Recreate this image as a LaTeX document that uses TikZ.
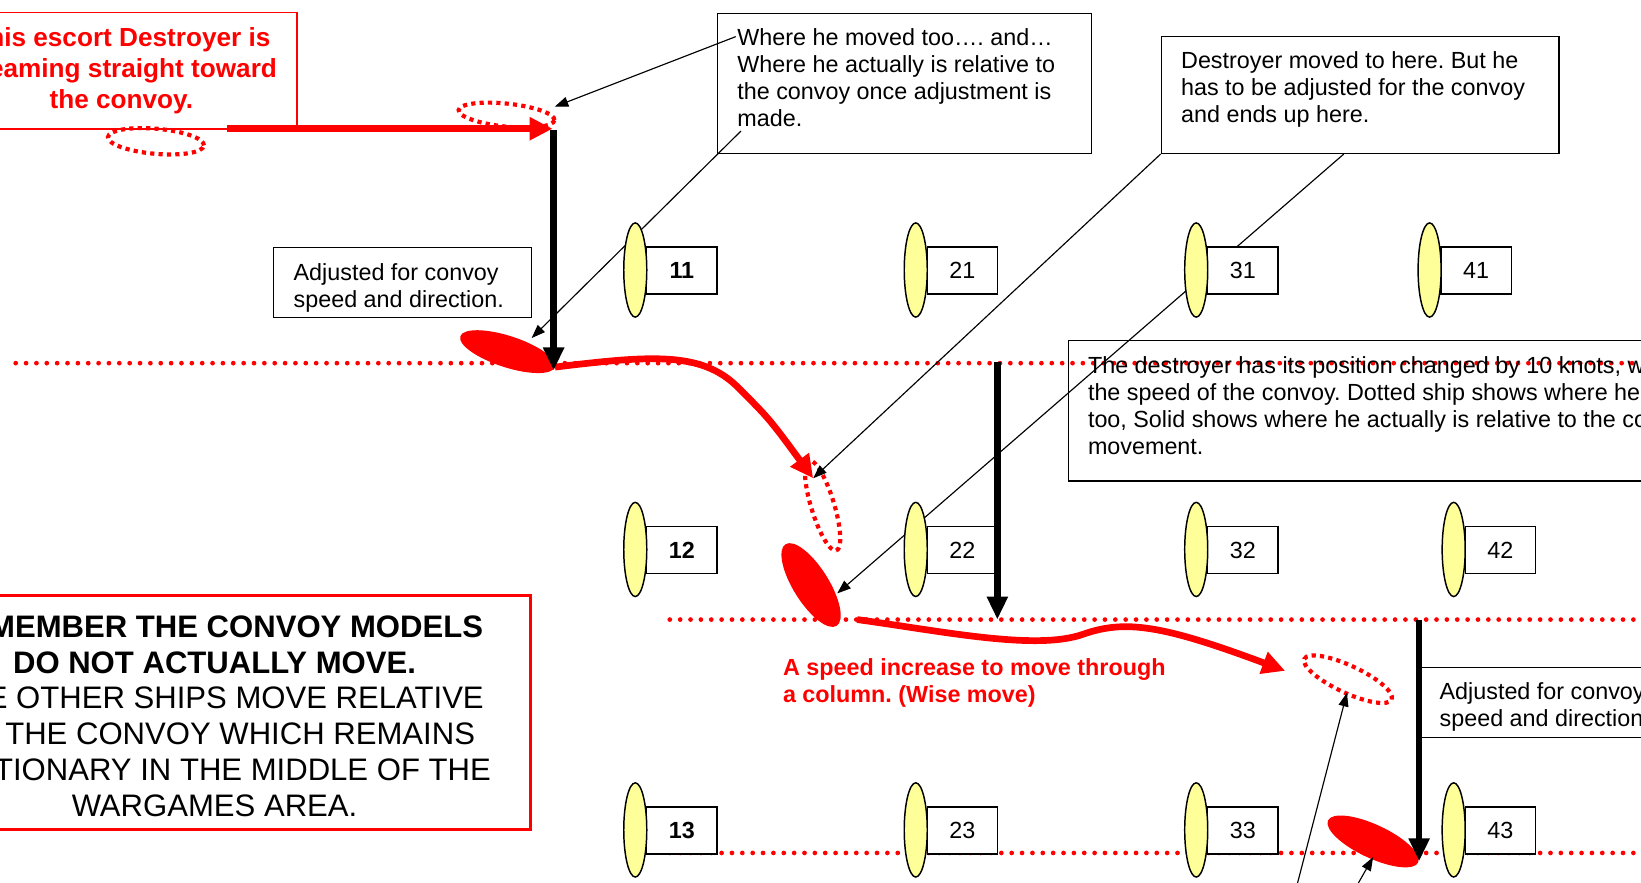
\documentclass[tikz,border=0pt]{standalone}
\usepackage{fontspec}
\setmainfont{Liberation Sans}
\frenchspacing
\usetikzlibrary{calc,shapes.geometric,arrows.meta}
\definecolor{shipyellow}{RGB}{255,255,153}
\newcommand{\notefont}{\fontsize{22.3pt}{25.7pt}\selectfont}
\newcommand{\notetext}[3]{\parbox[t][#1][t]{#2}{#3}}

\begin{document}
\begin{tikzpicture}[x=1pt,y=-1pt,>={Triangle[length=13pt,width=9.5pt]},
	dots/.style={red,line width=4.5pt,dash pattern=on 0pt off 9.9pt,line cap=round},
	note/.style={draw,line width=1.2pt,anchor=north west,inner xsep=19pt,inner ysep=15pt,font=\notefont},
	redbox/.style={draw=red,align=center,inner sep=0pt},
	rednote/.style={anchor=north west,align=left,inner sep=0pt,text=red,font=\notefont\bfseries},
	ship/.style={ellipse,draw,line width=1.4pt,fill=shipyellow,minimum width=22pt,minimum height=90pt,inner sep=0pt},
	shipbox/.style={draw,line width=1.3pt,fill=white,minimum width=67pt,minimum height=45pt,inner sep=0pt,font=\notefont},
	ghost/.style={ellipse,draw=red,line width=4pt,dash pattern=on 4pt off 4pt,inner sep=0pt},
	hull/.style={ellipse,fill=red,inner sep=0pt},
	callout/.style={->,line width=1.1pt},
	redmove/.style={red,line width=6.4pt,-{Triangle[length=22pt,width=21pt]}},
	adjust/.style={line width=6pt,-{Triangle[length=22pt,width=19pt]}}]
	\useasboundingbox (0,0) rectangle (1568,843);
	% convoy column lines
	\draw[dots] (15,347) -- (1568,347);
	\draw[dots] (640,592) -- (1568,592);
	\draw[dots] (640,815) -- (1568,815);
	% text boxes
	\node[redbox,line width=1.5pt,minimum width=336pt,minimum height=111pt,text=red,font=\fontsize{25pt}{29.5pt}\selectfont\bfseries] (escort) at (116,67.5) {This escort Destroyer is\\steaming straight toward\\the convoy.};
	\node[note] (moved) at (685,12) {\notetext{104pt}{319pt}{Where he moved too…. and…\\Where he actually is relative to\\the convoy once adjustment is\\made.}};
	\node[note] (dest) at (1109,34) {\notetext{82pt}{342pt}{Destroyer moved to here. But he\\has to be adjusted for the convoy\\and ends up here.}};
	\node[note] (knots) at (1020,325) {\notetext{104pt}{762pt}{The destroyer has its position changed by 10 knots, which is\\the speed of the convoy. Dotted ship shows where he moved\\too, Solid shows where he actually is relative to the convoy\\movement.}};
	\node[note] (adjusted1) at (261,236) {\notetext{37pt}{208pt}{Adjusted for convoy\\speed and direction.}};
	\node[note,inner xsep=17pt] (adjusted2) at (1358,637) {\notetext{37pt}{266pt}{Adjusted for convoy\\speed and direction.}};
	\node[redbox,line width=3pt,minimum width=604pt,minimum height=224pt,font=\fontsize{29.7pt}{34.2pt}\selectfont] (remember) at (205,681) {\rule{0pt}{27pt}\textbf{REMEMBER THE CONVOY MODELS}\\\textbf{DO NOT ACTUALLY MOVE.}\\THE OTHER SHIPS MOVE RELATIVE\\TO THE CONVOY WHICH REMAINS\\STATIONARY IN THE MIDDLE OF THE\\WARGAMES AREA.};
	\node[rednote] (speedup) at (748,629) {A speed increase to move through\\a column. (Wise move)};
	% destroyer positions
	\node[ghost,minimum width=92pt,minimum height=24pt,rotate=-5] (startpos) at (149,135) {};
	\node[ghost,minimum width=92pt,minimum height=22pt,rotate=-6] (movedpos1) at (484,110) {};
	\node[hull,minimum width=95pt,minimum height=30pt,rotate=-18] (realpos1) at (485,336) {};
	\node[ghost,minimum width=90pt,minimum height=22pt,rotate=-73] (movedpos2) at (786,483) {};
	\node[hull,minimum width=92pt,minimum height=34pt,rotate=-58] (realpos2) at (775,559) {};
	\node[ghost,minimum width=92pt,minimum height=26pt,rotate=-25] (movedpos3) at (1288,649) {};
	\node[hull,minimum width=95pt,minimum height=32pt,rotate=-25] (realpos3) at (1312,804) {};
	% callouts
	\coordinate (tipA) at (530,102);
	\coordinate (tipB) at (508,323);
	\coordinate (tipC) at (777,457);
	\coordinate (tipD) at (800,567);
	\coordinate (tipE) at (1287,662);
	\coordinate (tipF) at (1312,819);
	\coordinate (offE) at (1233,870);
	\coordinate (offF) at (1283,870);
	\draw[callout] ($(moved.north west)+(18,23)$) -- (tipA);
	\draw[callout] ($(moved.south west)+(23,-22)$) -- (tipB);
	\draw[callout] (dest.south west) -- (tipC);
	\draw[callout] ($(dest.south west)+(175,0)$) -- (tipD);
	\draw[callout] (offE) -- (tipE);
	\draw[callout] (offF) -- (tipF);
	% convoy
	\foreach \n/\x/\y/\wt in {11/607/258/\bfseries,21/875/258/\mdseries,31/1143/258/\mdseries,41/1366/258/\mdseries,
		12/607/525/\bfseries,22/875/525/\mdseries,32/1143/525/\mdseries,42/1389/525/\mdseries,
		13/607/793/\bfseries,23/875/793/\mdseries,33/1143/793/\mdseries,43/1389/793/\mdseries}{
		\node[shipbox] (b\n) at (\x+44.5,\y+0.5) {\wt\n};
		\node[ship] (s\n) at (\x,\y) {};
	}
	% moves
	\coordinate (run1) at (217,123);
	\coordinate (stop1) at (528,123);
	\coordinate (run3) at (819,592);
	\coordinate (stop3) at (1228,641);
	\draw[redmove] (run1) -- (stop1);
	\draw[redmove] (realpos1.east) .. controls (620,340) and (670,335) .. (705,370) .. controls (735,400) .. (tipC);
	\draw[redmove] (run3) .. controls (900,603) and (990,622) .. (1035,606) .. controls (1075,592) and (1110,597) .. (stop3);
	% convoy adjustment
	\coordinate (drift1) at (529,124);
	\coordinate (land1) at (529,354);
	\coordinate (drift2) at (953,346);
	\coordinate (land2) at (953,592);
	\coordinate (drift3) at (1356,592);
	\coordinate (land3) at (1356,823);
	\draw[adjust] (drift1) -- (land1);
	\draw[adjust] (drift2) -- (land2);
	\draw[adjust] (drift3) -- (land3);
\end{tikzpicture}
\end{document}
